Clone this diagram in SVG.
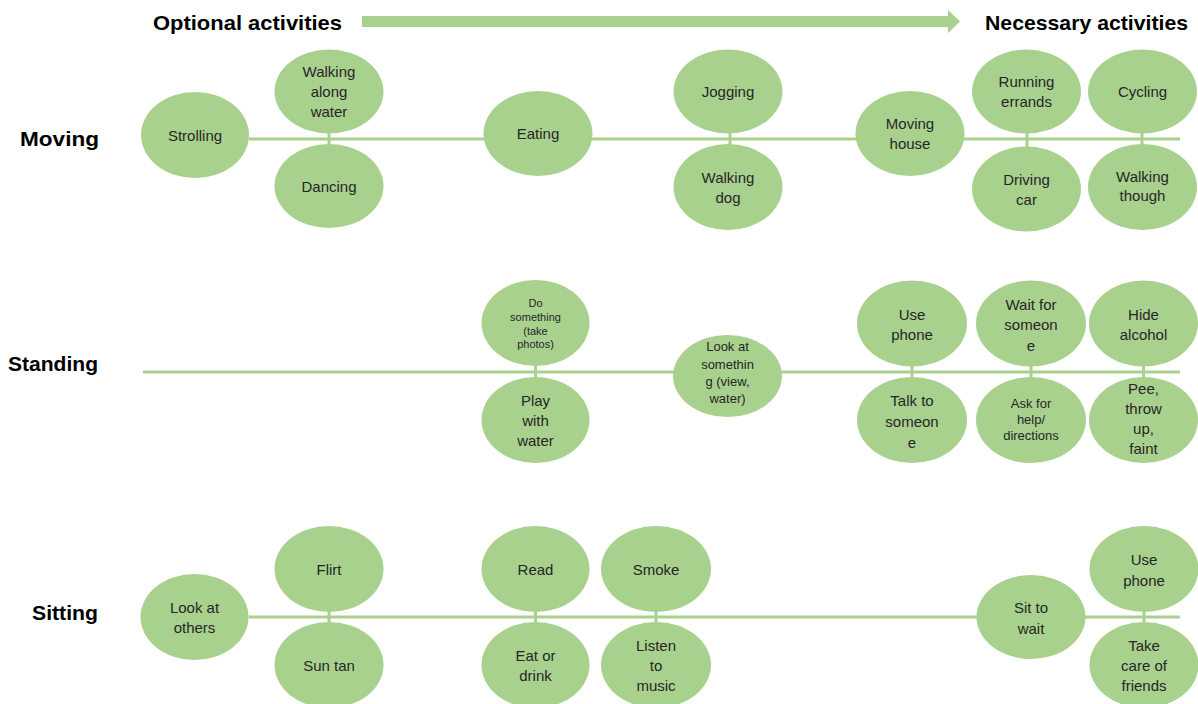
<svg xmlns="http://www.w3.org/2000/svg" width="1198" height="704" viewBox="0 0 1198 704">
<style>
.n{fill:#a9d18e;}
.c{stroke:#a9d18e;stroke-width:3;fill:none;}
.t{font-family:"Liberation Sans",Arial,sans-serif;font-size:15px;fill:#262626;text-anchor:middle;dominant-baseline:central;}
.s{font-size:11px;}
.m{font-size:13px;}
.h{font-family:"Liberation Sans",Arial,sans-serif;font-size:21px;font-weight:bold;fill:#000;dominant-baseline:central;}
</style>
<rect width="1198" height="704" fill="#fff"/>
<g id="connectors">
<polygon points="362,16 948,16 948,10 960,21.5 948,33 948,27 362,27" fill="#a9d18e"/>
<line class="c" x1="249" y1="139" x2="1180" y2="139"/>
<line class="c" x1="143" y1="372" x2="1180" y2="372"/>
<line class="c" x1="249" y1="617" x2="1180" y2="617"/>
<line class="c" x1="329" y1="130" x2="329" y2="148"/>
<line class="c" x1="730" y1="130" x2="730" y2="148"/>
<line class="c" x1="1027" y1="130" x2="1027" y2="150"/>
<line class="c" x1="1142" y1="130" x2="1142" y2="148"/>
<line class="c" x1="535.5" y1="362" x2="535.5" y2="380"/>
<line class="c" x1="912" y1="362" x2="912" y2="380"/>
<line class="c" x1="1031" y1="362" x2="1031" y2="380"/>
<line class="c" x1="1143.5" y1="362" x2="1143.5" y2="380"/>
<line class="c" x1="329" y1="608" x2="329" y2="626"/>
<line class="c" x1="535.5" y1="608" x2="535.5" y2="626"/>
<line class="c" x1="656" y1="608" x2="656" y2="626"/>
<line class="c" x1="1144" y1="608" x2="1144" y2="626"/>
</g>
<g id="header">
<text class="h" x="153" y="22" textLength="189" lengthAdjust="spacingAndGlyphs">Optional activities</text>
<text class="h" x="985" y="22" textLength="203" lengthAdjust="spacingAndGlyphs">Necessary activities</text>
</g>
<g id="row-labels">
<text class="h" x="20" y="138" textLength="79" lengthAdjust="spacingAndGlyphs">Moving</text>
<text class="h" x="8" y="363" textLength="90" lengthAdjust="spacingAndGlyphs">Standing</text>
<text class="h" x="32" y="612" textLength="66" lengthAdjust="spacingAndGlyphs">Sitting</text>
</g>
<!-- Moving row -->
<g id="strolling"><ellipse class="n" cx="195" cy="135" rx="54" ry="43"/><text class="t" x="195" y="135">Strolling</text></g>
<g id="walking-along-water"><ellipse class="n" cx="329" cy="91.5" rx="54.5" ry="42"/><text class="t" x="329" y="71.5">Walking</text><text class="t" x="329" y="91.5">along</text><text class="t" x="329" y="111.5">water</text></g>
<g id="dancing"><ellipse class="n" cx="329" cy="186" rx="54.5" ry="42"/><text class="t" x="329" y="186">Dancing</text></g>
<g id="eating"><ellipse class="n" cx="538" cy="133.5" rx="54.5" ry="42.5"/><text class="t" x="538" y="133.5">Eating</text></g>
<g id="jogging"><ellipse class="n" cx="728" cy="91.5" rx="54.5" ry="42"/><text class="t" x="728" y="91.5">Jogging</text></g>
<g id="walking-dog"><ellipse class="n" cx="728" cy="187" rx="54.5" ry="43"/><text class="t" x="728" y="177.5">Walking</text><text class="t" x="728" y="197">dog</text></g>
<g id="moving-house"><ellipse class="n" cx="910" cy="133.5" rx="54.5" ry="42.5"/><text class="t" x="910" y="123.5">Moving</text><text class="t" x="910" y="143.5">house</text></g>
<g id="running-errands"><ellipse class="n" cx="1026.5" cy="91.5" rx="54.5" ry="42"/><text class="t" x="1026.5" y="81.5">Running</text><text class="t" x="1026.5" y="101.5">errands</text></g>
<g id="driving-car"><ellipse class="n" cx="1026.5" cy="189" rx="54.5" ry="42.5"/><text class="t" x="1026.5" y="179">Driving</text><text class="t" x="1026.5" y="199">car</text></g>
<g id="cycling"><ellipse class="n" cx="1142.5" cy="91.5" rx="54.5" ry="42"/><text class="t" x="1142.5" y="91.5">Cycling</text></g>
<g id="walking-though"><ellipse class="n" cx="1142.5" cy="187" rx="54.5" ry="43"/><text class="t" x="1142.5" y="176">Walking</text><text class="t" x="1142.5" y="195.5">though</text></g>
<!-- Standing row -->
<g id="do-something"><ellipse class="n" cx="535.5" cy="323" rx="54" ry="43"/><text class="t s" x="535.5" y="302.5">Do</text><text class="t s" x="535.5" y="316.5">something</text><text class="t s" x="535.5" y="330.5">(take</text><text class="t s" x="535.5" y="344">photos)</text></g>
<g id="play-with-water"><ellipse class="n" cx="535.5" cy="420" rx="54" ry="43"/><text class="t" x="535.5" y="400">Play</text><text class="t" x="535.5" y="420">with</text><text class="t" x="535.5" y="440">water</text></g>
<g id="look-at-something"><ellipse class="n" cx="727.5" cy="376" rx="54.5" ry="41"/><text class="t m" x="727.5" y="346">Look at</text><text class="t m" x="727.5" y="364">somethin</text><text class="t m" x="727.5" y="381.5">g (view,</text><text class="t m" x="727.5" y="398.5">water)</text></g>
<g id="use-phone-standing"><ellipse class="n" cx="912" cy="323.5" rx="55" ry="43"/><text class="t" x="912" y="314.5">Use</text><text class="t" x="912" y="334.5">phone</text></g>
<g id="talk-to-someone"><ellipse class="n" cx="912" cy="420" rx="55" ry="43"/><text class="t" x="912" y="400">Talk to</text><text class="t" x="912" y="421">someon</text><text class="t" x="912" y="442">e</text></g>
<g id="wait-for-someone"><ellipse class="n" cx="1031" cy="323.5" rx="55" ry="43"/><text class="t" x="1031" y="304.5">Wait for</text><text class="t" x="1031" y="324.5">someon</text><text class="t" x="1031" y="345">e</text></g>
<g id="ask-for-help"><ellipse class="n" cx="1031" cy="420" rx="55" ry="43"/><text class="t m" x="1031" y="403">Ask for</text><text class="t m" x="1031" y="419.5">help/</text><text class="t m" x="1031" y="435.5">directions</text></g>
<g id="hide-alcohol"><ellipse class="n" cx="1143.5" cy="323.5" rx="54.5" ry="43"/><text class="t" x="1143.5" y="314.5">Hide</text><text class="t" x="1143.5" y="334.5">alcohol</text></g>
<g id="pee-throw-up-faint"><ellipse class="n" cx="1143.5" cy="420" rx="54.5" ry="43"/><text class="t" x="1143.5" y="388.5">Pee,</text><text class="t" x="1143.5" y="408.5">throw</text><text class="t" x="1143.5" y="428.5">up,</text><text class="t" x="1143.5" y="448.5">faint</text></g>
<!-- Sitting row -->
<g id="look-at-others"><ellipse class="n" cx="194.5" cy="617" rx="54" ry="43"/><text class="t" x="194.5" y="607.5">Look at</text><text class="t" x="194.5" y="627.5">others</text></g>
<g id="flirt"><ellipse class="n" cx="329" cy="569" rx="54.5" ry="43"/><text class="t" x="329" y="569.5">Flirt</text></g>
<g id="sun-tan"><ellipse class="n" cx="329" cy="665" rx="54.5" ry="43"/><text class="t" x="329" y="665">Sun tan</text></g>
<g id="read"><ellipse class="n" cx="535.5" cy="569" rx="54" ry="43"/><text class="t" x="535.5" y="569.5">Read</text></g>
<g id="eat-or-drink"><ellipse class="n" cx="535.5" cy="665" rx="54" ry="43"/><text class="t" x="535.5" y="655">Eat or</text><text class="t" x="535.5" y="675">drink</text></g>
<g id="smoke"><ellipse class="n" cx="656" cy="569" rx="55" ry="43"/><text class="t" x="656" y="569.5">Smoke</text></g>
<g id="listen-to-music"><ellipse class="n" cx="656" cy="665" rx="55" ry="43"/><text class="t" x="656" y="645">Listen</text><text class="t" x="656" y="665">to</text><text class="t" x="656" y="685">music</text></g>
<g id="sit-to-wait"><ellipse class="n" cx="1031" cy="617" rx="54.5" ry="42"/><text class="t" x="1031" y="607.5">Sit to</text><text class="t" x="1031" y="628">wait</text></g>
<g id="use-phone-sitting"><ellipse class="n" cx="1144" cy="569" rx="54.5" ry="43"/><text class="t" x="1144" y="559.5">Use</text><text class="t" x="1144" y="580">phone</text></g>
<g id="take-care-of-friends"><ellipse class="n" cx="1144" cy="665" rx="54.5" ry="43"/><text class="t" x="1144" y="645.5">Take</text><text class="t" x="1144" y="665.5">care of</text><text class="t" x="1144" y="685">friends</text></g>
</svg>
